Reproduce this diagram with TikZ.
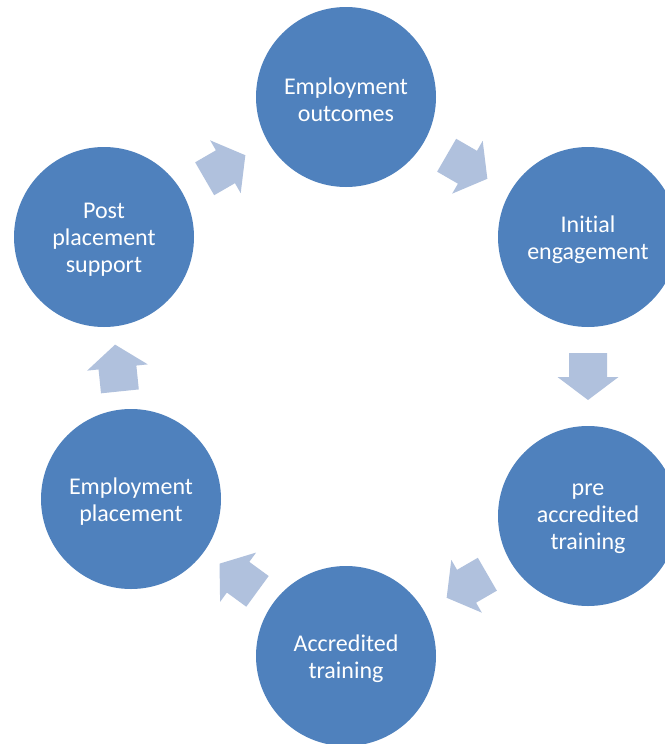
\documentclass[tikz,border=0pt]{standalone}
\usepackage{fontspec}
\setmainfont{Carlito}[Ligatures=NoCommon]
\usetikzlibrary{calc}
\definecolor{circblue}{HTML}{4F81BD}
\definecolor{arrowblue}{HTML}{B0C1DD}
\tikzset{
  stage/.style={circle, fill=circblue, draw=none, minimum size=180pt, inner sep=0pt},
  stagetext/.style={text=white, align=center, inner sep=0pt, font=\fontsize{24}{27}\selectfont},
  cyclearrow/.style={fill=arrowblue, draw=none}
}
\newcommand{\blockarrow}[2]{%
  \coordinate (m-#1-#2) at ($(#1)!0.5!(#2)$);
  \fill[cyclearrow] ($(m-#1-#2)!30.22pt!141.04:(#2)$) -- ($(m-#1-#2)!19.007pt!88.49:(#2)$)
    -- ($(m-#1-#2)!30.504pt!89.06:(#2)$) -- ($(m-#1-#2)!23.5pt!(#2)$)
    -- ($(m-#1-#2)!30.504pt!-89.06:(#2)$) -- ($(m-#1-#2)!19.007pt!-88.49:(#2)$)
    -- ($(m-#1-#2)!30.22pt!-141.04:(#2)$) -- cycle;}
\newcommand{\stagenode}[3]{%
  \node[stage] (#1) at (#2) {};
  \node[stagetext] (#1-t) at ([yshift=-2.5pt]#1.center) {#3};}
\begin{document}
\begin{tikzpicture}[x=1pt,y=-1pt]
\fill[white] (0,0) rectangle (664,744);
\useasboundingbox (0,0) rectangle (664,744);
\stagenode{eo}{346,97}{Employment\\outcomes}
\stagenode{ie}{588,237}{Initial\\engagement}
\stagenode{pat}{588,516}{pre\\accredited\\training}
\stagenode{at}{346,656}{Accredited\\training}
\stagenode{ep}{131,499}{Employment\\placement}
\stagenode{pps}{104,237}{Post\\placement\\support}
\blockarrow{eo}{ie}
\blockarrow{ie}{pat}
\blockarrow{pat}{at}
\blockarrow{at}{ep}
\blockarrow{ep}{pps}
\blockarrow{pps}{eo}
\end{tikzpicture}
\end{document}
